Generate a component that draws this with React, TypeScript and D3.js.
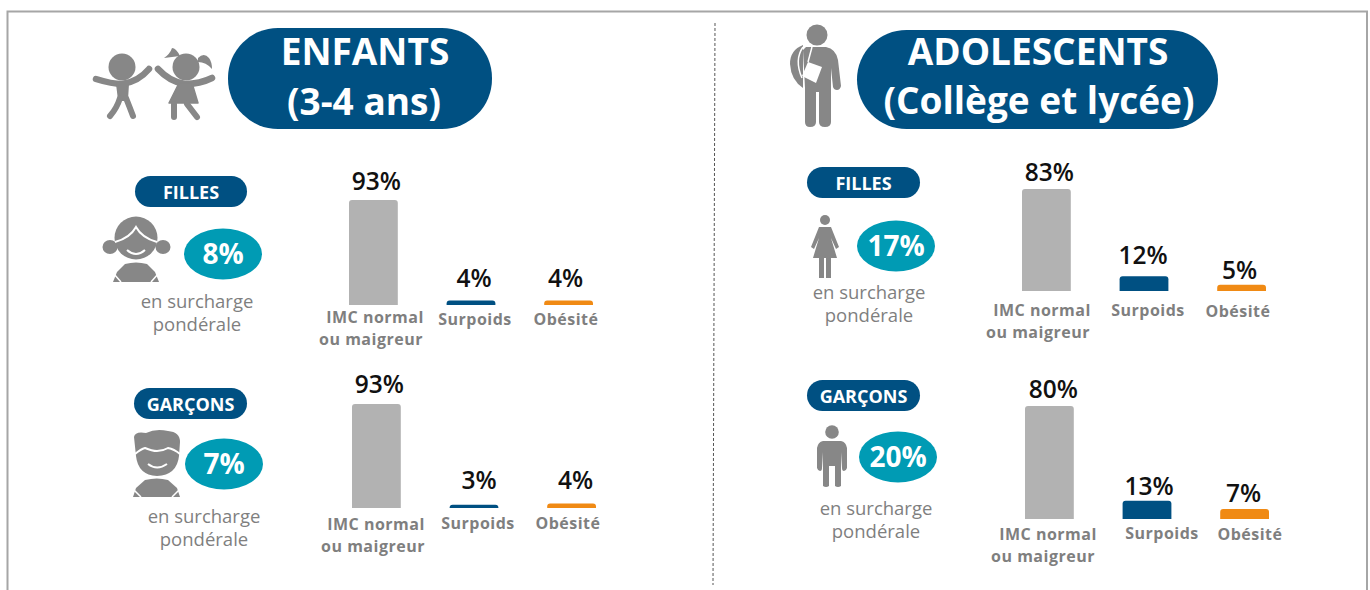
import React from 'react';
import * as d3 from 'd3';

const FONT = '"Open Sans", sans-serif';
const NAVY = '#005082';
const TEAL = '#009bb4';
const BAR_GREY = '#b2b2b2';
const ORANGE = '#f08a14';
const ICON = '#878787';
const LABEL = '#7f7f7f';

const categories = ['IMC normal ou maigreur', 'Surpoids', 'Obésité'];
const barColors = [BAR_GREY, NAVY, ORANGE];

const enfantsFilles = [93, 4, 4];
const enfantsGarcons = [93, 3, 4];
const adoFilles = [83, 12, 5];
const adoGarcons = [80, 13, 7];

const overweight = ['8%', '7%', '17%', '20%'];

const Bars = ({ values, x0, base, top, valDx, valDy, labDx, labDy }: any) => {
  const x = d3.scaleBand().domain(categories).range([x0, x0 + 244]).paddingInner(0.5).paddingOuter(0);
  const y = d3.scaleLinear().domain([0, values[0]]).range([base, top]);
  return (
    <g>
      {categories.map((c, i) => {
        const bx = x(c) as number;
        const h = Math.max(base - y(values[i]), 3);
        const w = x.bandwidth();
        const by = base - h;
        const r = Math.min(3, h);
        const d = `M${bx},${base}V${by + r}Q${bx},${by} ${bx + r},${by}H${bx + w - r}Q${bx + w},${by} ${bx + w},${by + r}V${base}Z`;
        return (
          <g key={c}>
            <path d={d} fill={barColors[i]} />
            <text
              x={bx + w / 2 + (i === 0 ? 3 : 0) + valDx[i]}
              y={by - 11 + valDy[i]}
              textAnchor="middle"
              fontSize={24.5}
              fontWeight={600}
              fill="#111"
            >
              {values[i]}%
            </text>
          </g>
        );
      })}
      <g fontSize={16} fontWeight={700} fill={LABEL} textAnchor="middle" letterSpacing={0.5}>
        <text x={x0 + 26 + labDx[0]} y={base + 17 + labDy[0]}>IMC normal</text>
        <text x={x0 + 22 + labDx[1]} y={base + 39 + labDy[0]}>ou maigreur</text>
        <text x={x0 + 126 + labDx[2]} y={base + 19 + labDy[1]}>Surpoids</text>
        <text x={x0 + 217 + labDx[3]} y={base + 18 + labDy[2]}>Obésité</text>
      </g>
    </g>
  );
};

const Pill = ({ x, y, w, h, children }: any) => (
  <g>
    <rect x={x} y={y} width={w} height={h} rx={h / 2} fill={NAVY} />
    <text x={x + w / 2} y={y + h / 2 + 7} textAnchor="middle" fontSize={18} fontWeight={700} fill="#fff">
      {children}
    </text>
  </g>
);

const Badge = ({ cx, cy, children }: any) => (
  <g>
    <ellipse cx={cx} cy={cy} rx={39} ry={25.5} fill={TEAL} />
    <text x={cx} y={cy + 10} textAnchor="middle" fontSize={28} fontWeight={700} fill="#fff">
      {children}
    </text>
  </g>
);

const Caption = ({ x, y }: any) => (
  <g fontSize={18.5} fill={LABEL} textAnchor="middle">
    <text x={x} y={y}>en surcharge</text>
    <text x={x} y={y + 23}>pondérale</text>
  </g>
);

const Kids = () => (
  <g fill={ICON} stroke={ICON} strokeLinecap="round" strokeLinejoin="round">
    <circle cx={122} cy={67} r={13.5} stroke="none" />
    <path d="M96,79 Q112,84 122,84 Q138,82 149,69" fill="none" strokeWidth={6.5} />
    <path d="M117,84 H128 L127,100 L119,100 Z" strokeWidth={2} />
    <path d="M120,98 Q117,108 110,116 M126,98 Q130,108 133,116" fill="none" strokeWidth={6} />
    <circle cx={186} cy={67} r={13.5} stroke="none" />
    <path d="M164,58 Q170,54 172,48 Q176,48 180,56 Z M198,58 Q204,52 209,58 Q212,62 212,69 Q206,62 198,62 Z" stroke="none" />
    <path d="M158,69 Q170,82 185,84 Q200,84 212,78" fill="none" strokeWidth={6.5} />
    <path d="M179,83 H192 L198,103 H169 Z" strokeWidth={1.5} />
    <path d="M174,104 V117 M187,104 L197,117" fill="none" strokeWidth={6} />
  </g>
);

const GirlFace = () => (
  <g>
    <circle cx={136} cy={238} r={21.5} fill={ICON} />
    <ellipse cx={110} cy={247} rx={7.5} ry={7} fill={ICON} />
    <ellipse cx={163} cy={247} rx={7.5} ry={7} fill={ICON} />
    <path d="M115,242 Q130,238 136,227 Q142,238 157,242" fill="none" stroke="#fff" strokeWidth={2} />
    <path d="M127,250 Q136,258 145,250" fill="none" stroke="#fff" strokeWidth={2} />
    <path d="M113,282 L117,272 L125,264 Q136,261 147,264 L155,272 L159,282 Z" fill={ICON} />
    <path d="M114,274 L121,282 M158,274 L151,282" fill="none" stroke="#fff" strokeWidth={1.5} />
  </g>
);

const BoyFace = () => (
  <g>
    <path d="M134,437 Q135,431 146,433 Q156,428 168,431 Q180,432 180,442 L179,456 Q177,475 157,476 Q138,475 136,456 Z" fill={ICON} />
    <path d="M135,454 Q141,449 145,448 Q152,451 157,451 Q163,451 168,448 Q174,449 180,454" fill="none" stroke="#fff" strokeWidth={2} />
    <path d="M148,464 Q157,471 167,464" fill="none" stroke="#fff" strokeWidth={2} />
    <path d="M133,497 L136,488 L145,480 Q157,477 168,480 L177,488 L180,497 Z" fill={ICON} />
    <path d="M134,490 L141,497 M179,490 L172,497" fill="none" stroke="#fff" strokeWidth={1.5} />
  </g>
);

const Student = () => (
  <g fill={ICON}>
    <circle cx={817} cy={35} r={10.5} />
    <path d="M803,45 Q790,50 790,64 Q791,80 803,88 Z" />
    <path d="M806,47 H826 Q836,49 838,60 L841,86 Q840,90 837,90 Q834,90 833,87 L831,68 V122 Q831,127 825,127 Q819,127 819,122 V92 H816 V122 Q816,127 810,127 Q805,127 805,122 V88 L803,50 Z" />
    <path d="M808,62 L822,67 L816,83 L802,76 Z" fill="#fff" />
    <path d="M803,47 Q794,60 802,78" fill="none" stroke="#fff" strokeWidth={1.5} />
    <path d="M812,47 L808,62" fill="none" stroke="#fff" strokeWidth={1.5} />
  </g>
);

const Woman = () => (
  <g fill={ICON}>
    <circle cx={825} cy={220} r={5} />
    <path d="M819,227 H831 L839,247 L836,249 L831,238 L837,258 H831 V278 H826 V258 H824 V278 H819 V258 H813 L819,238 L814,249 L811,247 Z" />
  </g>
);

const Man = () => (
  <g fill={ICON}>
    <circle cx={832} cy={432} r={6.8} />
    <path d="M823,441 H841 Q846,442 847,448 L847,468 Q846,471 844,471 Q842,471 842,468 L841,452 V486 Q838,488 835,486 V466 H829 V486 Q826,488 823,486 V452 L822,468 Q822,471 820,471 Q818,471 817,468 L817,448 Q818,442 823,441 Z" />
  </g>
);

export default function App() {
  return (
    <svg width={1370} height={590} style={{ position: 'absolute', left: 0, top: 0, background: '#fff' }} fontFamily={FONT}>
      <path d="M7.5,590V11.5H1367V590" fill="none" stroke="#a6a6a6" strokeWidth={2} />
      <line x1={715} y1={23} x2={713} y2={585} stroke="#555" strokeWidth={1} strokeDasharray="3 2" />

      <Kids />
      <rect x={228} y={28} width={264} height={101} rx={50} fill={NAVY} />
      <g fontSize={37} fontWeight={700} fill="#fff" textAnchor="middle">
        <text x={365} y={65}>ENFANTS</text>
        <text x={364} y={115}>(3-4 ans)</text>
      </g>

      <Student />
      <rect x={857} y={30} width={361} height={99} rx={49.5} fill={NAVY} />
      <g fontSize={37} fontWeight={700} fill="#fff" textAnchor="middle">
        <text x={1038} y={65}>ADOLESCENTS</text>
        <text x={1039} y={114}>(Collège et lycée)</text>
      </g>

      <Pill x={135} y={176} w={112} h={31}>FILLES</Pill>
      <GirlFace />
      <Badge cx={223} cy={254}>{overweight[0]}</Badge>
      <Caption x={197} y={308} />
      <Bars values={enfantsFilles} x0={349} base={305} top={200}
        valDx={[0, 3, -3]} valDy={[1, -2, -2]} labDx={[0, 0, 0, 0]} labDy={[1, 1, 2]} />

      <Pill x={134} y={388} w={113} h={31}>GARÇONS</Pill>
      <BoyFace />
      <Badge cx={224} cy={464}>{overweight[1]}</Badge>
      <Caption x={204} y={523} />
      <Bars values={enfantsGarcons} x0={352} base={508} top={404}
        valDx={[0, 5, 4]} valDy={[0, -5, -4]} labDx={[-2, -1, 0, -1]} labDy={[5, 2, 3]} />

      <Pill x={807} y={167} w={113} h={31}>FILLES</Pill>
      <Woman />
      <Badge cx={896} cy={246}>{overweight[2]}</Badge>
      <Caption x={869} y={299} />
      <Bars values={adoFilles} x0={1022} base={291} top={189}
        valDx={[0, -1, -2]} valDy={[3, -1, 5]} labDx={[-6, -6, 0, -1]} labDy={[8, 6, 8]} />

      <Pill x={807} y={380} w={113} h={31}>GARÇONS</Pill>
      <Man />
      <Badge cx={898} cy={457}>{overweight[3]}</Badge>
      <Caption x={876} y={515} />
      <Bars values={adoGarcons} x0={1025} base={519} top={406}
        valDx={[1, 2, -1]} valDy={[3, 5, 4]} labDx={[-3, -4, 11, 8]} labDy={[4, 1, 3]} />
    </svg>
  );
}
